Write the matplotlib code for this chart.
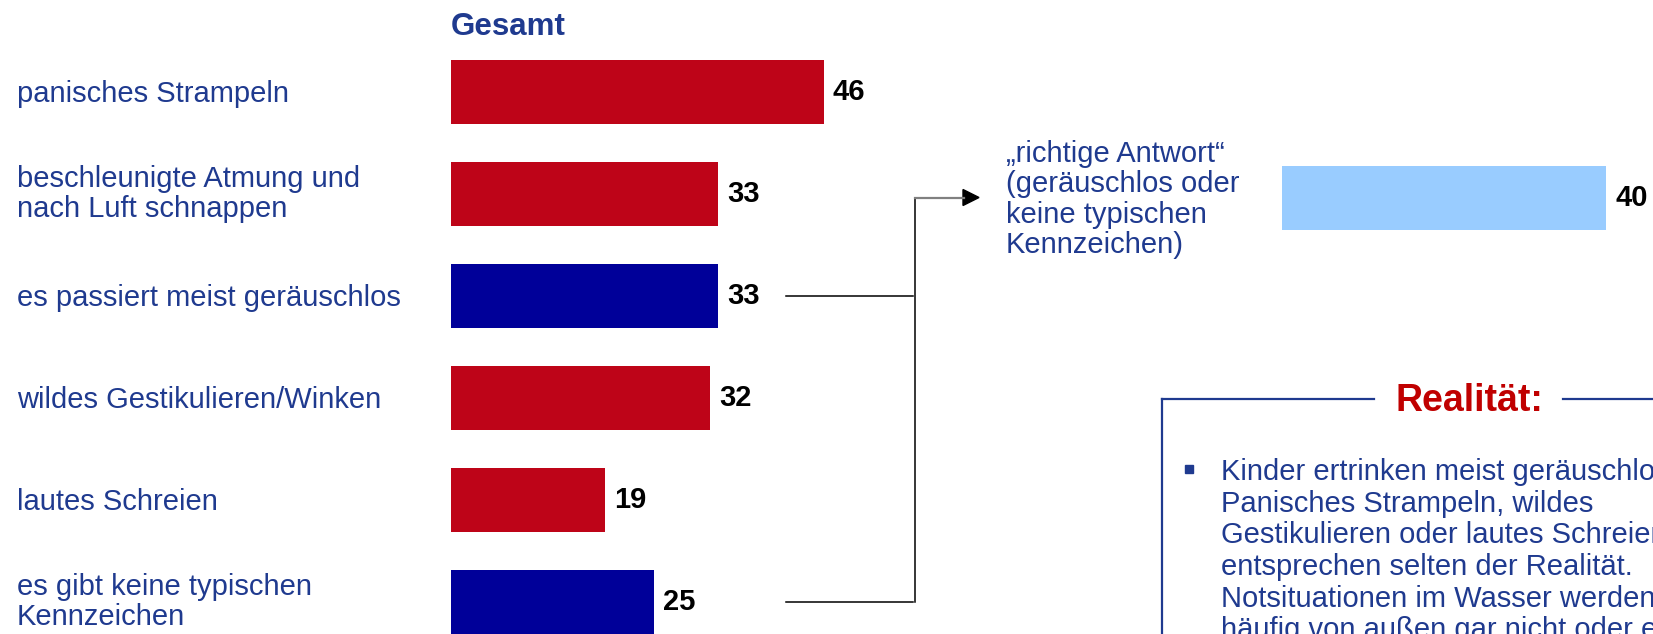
import matplotlib
matplotlib.use("Agg")
import matplotlib.pyplot as plt
from matplotlib.patches import Rectangle, Polygon
import numpy as np

plt.rcParams['font.family'] = ['Liberation Sans', 'DejaVu Sans']

# data
categories = [
    "panisches Strampeln",
    "beschleunigte Atmung und\nnach Luft schnappen",
    "es passiert meist geräuschlos",
    "wildes Gestikulieren/Winken",
    "lautes Schreien",
    "es gibt keine typischen\nKennzeichen",
]
values = [46, 33, 33, 32, 19, 25]
correct = [False, False, True, False, False, True]
combined_label = "„richtige Antwort“\n(geräuschlos oder\nkeine typischen\nKennzeichen)"
combined_value = 40
title = "Gesamt"
box_title = "Realität:"
box_lines = [
    "Kinder ertrinken meist geräuschlos.",
    "Panisches Strampeln, wildes",
    "Gestikulieren oder lautes Schreien",
    "entsprechen selten der Realität.",
    "Notsituationen im Wasser werden",
    "häufig von außen gar nicht oder erst",
]

RED = '#BE0418'
BLUE = '#000099'
LIGHT = '#99CCFF'
TXT = '#1F3A8F'

W, H = 1653, 634
PX_UNIT = 8.1      # pixels per percent
ROW0, STEP, BAR_H = 92, 102, 64
LEFT_X = 451
RIGHT_X, RIGHT_Y = 1282, 197.5

fig = plt.figure(figsize=(W / 100, H / 100), dpi=100)

# left bars
ax = fig.add_axes([LEFT_X / W, 0, (W - LEFT_X) / W, 1])
ax.set_xlim(0, (W - LEFT_X) / PX_UNIT)
ax.set_ylim((H - ROW0) / STEP, -ROW0 / STEP)
ax.axis('off')
ypos = np.arange(len(values))
cols = [BLUE if c else RED for c in correct]
ax.barh(ypos, values, height=BAR_H / STEP, color=cols)
for y, v in zip(ypos, values):
    ax.text(v + 9 / PX_UNIT, y, str(v), va='center', ha='left',
            fontsize=21, fontweight='bold', color='black')

# combined bar on the right
ax2 = fig.add_axes([RIGHT_X / W, 0, (W - RIGHT_X) / W, 1])
ax2.set_xlim(0, (W - RIGHT_X) / PX_UNIT)
ax2.set_ylim((H - RIGHT_Y) / STEP, -RIGHT_Y / STEP)
ax2.axis('off')
ax2.barh([0], [combined_value], height=BAR_H / STEP, color=LIGHT)
ax2.text(combined_value + 10 / PX_UNIT, 0, str(combined_value), va='center',
         ha='left', fontsize=21, fontweight='bold', color='black')

# overlay in pixel coords for texts and connectors
ov = fig.add_axes([0, 0, 1, 1])
ov.set_xlim(0, W)
ov.set_ylim(H, 0)
ov.axis('off')

ov.text(LEFT_X, 35, title, ha='left', va='baseline', fontsize=22.5,
        fontweight='bold', color=TXT)
for i, lab in enumerate(categories):
    dy = 0 if "\n" in lab else 2
    ov.text(17, ROW0 + STEP * i + dy, lab, ha='left', va='center', fontsize=21,
            color=TXT, linespacing=1.12)

ov.text(1006, RIGHT_Y + 2, combined_label, ha='left', va='center', fontsize=21,
        color=TXT, linespacing=1.12)

# connectors from the two "correct" bars
y3 = ROW0 + STEP * 2
y6 = ROW0 + STEP * 5
ov.plot([786, 913], [y3, y3], color='black', lw=1.1)
ov.plot([786, 913], [y6, y6], color='black', lw=1.1)
ov.plot([915, 915], [y6, RIGHT_Y], color='black', lw=1.1)
ov.plot([915, 964], [RIGHT_Y, RIGHT_Y], color='#808080', lw=1.6)
ov.add_patch(Polygon([[963, RIGHT_Y - 8], [963, RIGHT_Y + 8], [979, RIGHT_Y]],
                     closed=True, color='black'))

# Realität box
ov.plot([1162, 1162], [398.5, H + 5], color=TXT, lw=1.6, clip_on=False)
ov.plot([1162, 1374], [398.5, 398.5], color=TXT, lw=1.6)
ov.plot([1563, W + 5], [398.5, 398.5], color=TXT, lw=1.6, clip_on=False)
ov.text(1469, 401, box_title, ha='center', va='center', fontsize=27,
        fontweight='bold', color='#C00000')
ov.add_patch(Rectangle((1185, 465), 8, 8, color=TXT))
for i, line in enumerate(box_lines):
    ov.text(1221, 472 + 31.7 * i, line, ha='left', va='center', fontsize=21,
            color=TXT)

fig.savefig("out.png", dpi=100)
